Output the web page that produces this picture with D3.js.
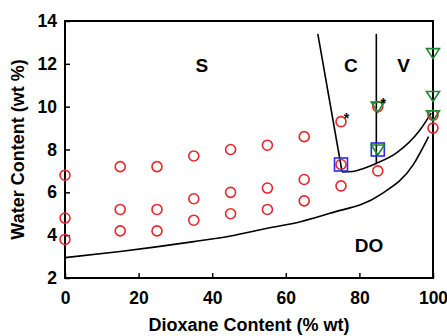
<!DOCTYPE html>
<html>
<head>
<meta charset="utf-8">
<script src="https://cdn.jsdelivr.net/npm/d3@7"></script>
<style>
  body { margin: 0; background: #fff; }
  text { font-family: "Liberation Sans", Arial, sans-serif; font-weight: bold; }
</style>
</head>
<body>
<div id="chart"></div>
<script>
// Chart size
var svgWidth = 447;
var svgHeight = 336;

var margin = { top: 21, right: 14, bottom: 58, left: 65 };
var chartW = svgWidth - margin.left - margin.right;
var chartH = svgHeight - margin.top - margin.bottom;

// Data (dioxane %, water %)
var xTicks = [0, 20, 40, 60, 80, 100];
var yTicks = [2, 4, 6, 8, 10, 12, 14];

var circleX = [0, 0, 0, 15, 15, 15, 25, 25, 25, 35, 35, 35, 45, 45, 45, 55, 55, 55, 65, 65, 65, 75, 75, 75, 85, 85, 100, 100];
var circleY = [6.8, 4.8, 3.8, 7.2, 5.2, 4.2, 7.2, 5.2, 4.2, 7.7, 5.7, 4.7, 8.0, 6.0, 5.0, 8.2, 6.2, 5.2, 8.6, 6.6, 5.6, 9.3, 7.3, 6.3, 10.0, 7.0, 9.6, 9.0];

var squareX = [75, 85];
var squareY = [7.3, 8.0];

var triangleX = [100, 100, 100, 85, 85];
var triangleY = [12.5, 10.5, 9.6, 10.0, 8.0];

var starX = [75, 85];
var starY = [9.3, 10.0];

// phase boundaries
var lowerX = [0, 15, 35, 45, 55, 64, 72, 85.6, 94.6, 98.8];
var lowerY = [2.95, 3.24, 3.7, 3.96, 4.32, 4.63, 5.02, 5.88, 7.28, 8.6];

var upperX = [75.3, 78, 80, 84.7, 90, 96.5, 99.5];
var upperY = [6.95, 6.97, 7.05, 7.36, 7.83, 8.92, 9.7];

var steepX = [68.7, 75.3];
var steepY = [13.4, 6.95];

var vertX = [84.6, 84.6];
var vertY = [13.4, 7.36];

var regionNames = ["S", "C", "V", "DO"];
var regionX = [37.2, 77.7, 92, 82.6];
var regionY = [11.6, 11.6, 11.6, 3.2];

var svg = d3.select("#chart")
  .append("svg")
  .attr("width", svgWidth)
  .attr("height", svgHeight);

var chartGrp = svg.append("g")
  .attr("transform", `translate(${margin.left}, ${margin.top})`);

var x = d3.scaleLinear().domain([0, 100]).range([0, chartW]);
var y = d3.scaleLinear().domain([2, 14]).range([chartH, 0]);

// axes with inward ticks
var bottomAxis = d3.axisBottom(x).tickValues(xTicks).tickSizeInner(-5).tickSizeOuter(0).tickPadding(14);
var leftAxis = d3.axisLeft(y).tickValues(yTicks).tickSizeInner(-5).tickSizeOuter(0).tickPadding(8);

var xg = chartGrp.append("g")
  .attr("transform", `translate(0, ${chartH})`)
  .call(bottomAxis);
var yg = chartGrp.append("g").call(leftAxis);

[xg, yg].forEach(function(g) {
  g.select(".domain").remove();
  g.selectAll("line").attr("stroke", "#000").attr("stroke-width", 1.5);
  g.selectAll("text")
    .attr("font-size", "17.5px")
    .attr("font-family", "Liberation Sans, Arial, sans-serif")
    .attr("font-weight", "bold")
    .attr("fill", "#000");
});

// frame
chartGrp.append("rect")
  .attr("width", chartW)
  .attr("height", chartH)
  .attr("fill", "none")
  .attr("stroke", "#000")
  .attr("stroke-width", 2);

// boundary lines
var curve = d3.line()
  .x(d => x(d[0]))
  .y(d => y(d[1]))
  .curve(d3.curveMonotoneX);
var straight = d3.line()
  .x(d => x(d[0]))
  .y(d => y(d[1]));

chartGrp.append("path")
  .attr("d", curve(d3.zip(lowerX, lowerY)))
  .attr("fill", "none").attr("stroke", "#000").attr("stroke-width", 1.6);
chartGrp.append("path")
  .attr("d", curve(d3.zip(upperX, upperY)))
  .attr("fill", "none").attr("stroke", "#000").attr("stroke-width", 1.6);
chartGrp.append("path")
  .attr("d", straight(d3.zip(steepX, steepY)))
  .attr("fill", "none").attr("stroke", "#000").attr("stroke-width", 1.6);
chartGrp.append("path")
  .attr("d", straight(d3.zip(vertX, vertY)))
  .attr("fill", "none").attr("stroke", "#000").attr("stroke-width", 1.6);

// red circles
chartGrp.selectAll(".pt")
  .data(d3.zip(circleX, circleY))
  .enter()
  .append("circle")
  .attr("class", "pt")
  .attr("cx", d => x(d[0]))
  .attr("cy", d => y(d[1]))
  .attr("r", 5)
  .attr("fill", "none")
  .attr("stroke", "#e8252b")
  .attr("stroke-width", 1.6);

// blue squares
chartGrp.selectAll(".sq")
  .data(d3.zip(squareX, squareY))
  .enter()
  .append("rect")
  .attr("class", "sq")
  .attr("x", d => x(d[0]) - 6.5)
  .attr("y", d => y(d[1]) - 6.5)
  .attr("width", 13)
  .attr("height", 13)
  .attr("fill", "none")
  .attr("stroke", "#2b2be6")
  .attr("stroke-width", 1.6);

// green down triangles
chartGrp.selectAll(".tri")
  .data(d3.zip(triangleX, triangleY))
  .enter()
  .append("path")
  .attr("class", "tri")
  .attr("transform", d => `translate(${x(d[0])}, ${y(d[1])})`)
  .attr("d", "M-6.5,-4.5L6.5,-4.5L0,5.5Z")
  .attr("fill", "none")
  .attr("stroke", "#1b8a2e")
  .attr("stroke-width", 1.6);

// asterisks
chartGrp.selectAll(".star")
  .data(d3.zip(starX, starY))
  .enter()
  .append("text")
  .attr("class", "star")
  .attr("x", d => x(d[0]) + 5.5)
  .attr("y", d => y(d[1]) + 1.5)
  .attr("font-size", "14px")
  .attr("font-weight", "normal")
  .attr("text-anchor", "middle")
  .text("*");

// region labels
chartGrp.selectAll(".region")
  .data(regionNames)
  .enter()
  .append("text")
  .attr("class", "region")
  .attr("x", (d, i) => x(regionX[i]))
  .attr("y", (d, i) => y(regionY[i]))
  .attr("text-anchor", "middle")
  .attr("font-size", "19px")
  .text(d => d);

// axis titles
svg.append("text")
  .attr("x", margin.left + chartW / 2)
  .attr("y", 331)
  .attr("text-anchor", "middle")
  .attr("font-size", "18px")
  .text("Dioxane Content (% wt)");

svg.append("text")
  .attr("transform", `translate(24, ${margin.top + chartH / 2}) rotate(-90)`)
  .attr("text-anchor", "middle")
  .attr("font-size", "18px")
  .text("Water Content (wt %)");
</script>
</body>
</html>
